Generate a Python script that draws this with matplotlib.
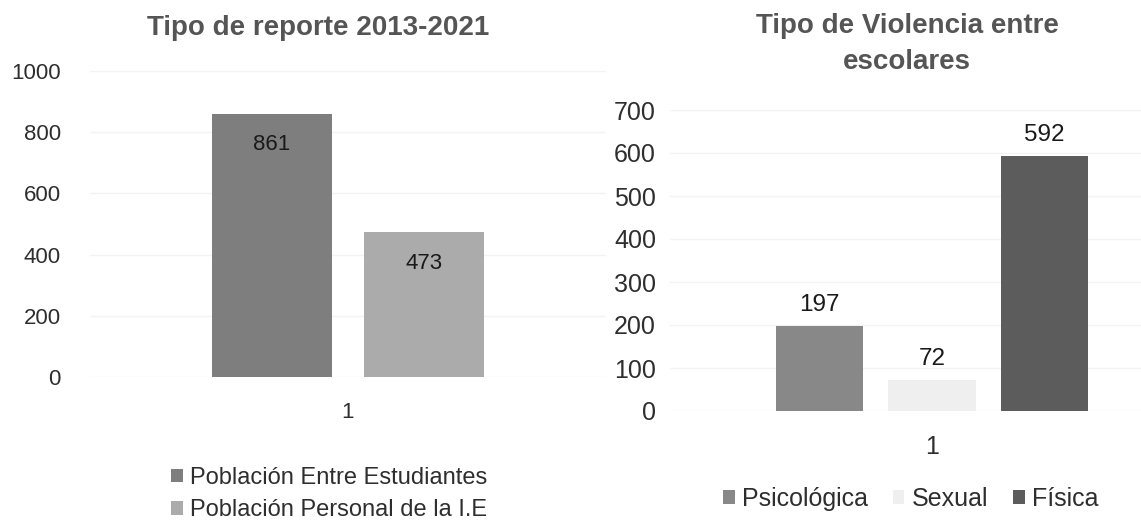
import matplotlib
matplotlib.use("Agg")
import matplotlib.pyplot as plt
from matplotlib.patches import Patch

plt.rcParams['font.family'] = ['Liberation Sans', 'DejaVu Sans']

# ---- data ----
left_title = "Tipo de reporte 2013-2021"
left_series = ["Población Entre Estudiantes", "Población Personal de la I.E"]
left_values = [861, 473]
left_colors = ["#7e7e7e", "#ababab"]
left_yticks = [0, 200, 400, 600, 800, 1000]

right_title = "Tipo de Violencia entre\nescolares"
right_series = ["Psicológica", "Sexual", "Física"]
right_values = [197, 72, 592]
right_colors = ["#888888", "#efefef", "#5c5c5c"]
right_yticks = [0, 100, 200, 300, 400, 500, 600, 700]

category = "1"

W, H = 1141, 530
fig = plt.figure(figsize=(W / 100, H / 100), dpi=100)
fig.patch.set_facecolor("white")

def px_axes(x0, x1, ytop, ybot):
    return fig.add_axes([x0 / W, 1 - ybot / H, (x1 - x0) / W, (ybot - ytop) / H])

text_col = "#2e2e2e"
title_col = "#555555"
grid_col = "#f3f3f3"

# ---- left chart ----
axL = px_axes(90, 606, 71, 377)
cL = 348
slotL = 152.5
axL.set_xlim((90 - cL) / slotL, (606 - cL) / slotL)
axL.set_ylim(0, 1000)
offsL = [-0.5, 0.5]
for i, (v, c) in enumerate(zip(left_values, left_colors)):
    axL.bar(offsL[i], v, width=0.79, color=c, zorder=2)
    axL.text(offsL[i], v - 68, str(v), ha="center", va="top", fontsize=16,
             color="#1a1a1a", zorder=3)
axL.set_yticks(left_yticks)
axL.set_yticklabels([str(t) for t in left_yticks])
axL.set_xticks([0])
axL.set_xticklabels([category])
axL.tick_params(axis="y", length=0, pad=21, labelsize=16, labelcolor=text_col)
axL.tick_params(axis="x", length=0, pad=18, labelsize=16, labelcolor=text_col)
axL.grid(axis="y", color=grid_col, linewidth=1, zorder=0)
for s in axL.spines.values():
    s.set_visible(False)
fig.text(318 / W, 1 - 28 / H, left_title, ha="center", va="center",
         fontsize=20, fontweight="bold", color=title_col)
handlesL = [Patch(facecolor=c, label=l) for l, c in zip(left_series, left_colors)]
legL = fig.legend(handles=handlesL, loc="center left",
                  bbox_to_anchor=(159 / W, 1 - 494 / H), frameon=False,
                  fontsize=17, handlelength=0.5, handleheight=0.5,
                  handletextpad=0.3, labelspacing=0.45, borderpad=0)
for t in legL.get_texts():
    t.set_color(text_col)

# ---- right chart ----
axR = px_axes(670, 1141, 110, 411)
cR = 932
slotR = 112.5
axR.set_xlim((670 - cR) / slotR, (1141 - cR) / slotR)
axR.set_ylim(0, 700)
offsR = [-1, 0, 1]
for i, (v, c) in enumerate(zip(right_values, right_colors)):
    axR.bar(offsR[i], v, width=0.78, color=c, zorder=2)
    axR.text(offsR[i], v + 24, str(v), ha="center", va="bottom", fontsize=17.5,
             color="#1a1a1a", zorder=3)
axR.set_yticks(right_yticks)
axR.set_yticklabels([str(t) for t in right_yticks])
axR.set_xticks([0])
axR.set_xticklabels([category])
axR.tick_params(axis="y", length=0, pad=10, labelsize=18, labelcolor=text_col)
axR.tick_params(axis="x", length=0, pad=17, labelsize=18, labelcolor=text_col)
axR.grid(axis="y", color=grid_col, linewidth=1, zorder=0)
for s in axR.spines.values():
    s.set_visible(False)
fig.text(907 / W, 1 - 44 / H, right_title, ha="center", va="center",
         fontsize=20, fontweight="bold", color=title_col, linespacing=1.5)
handlesR = [Patch(facecolor=c, label=l) for l, c in zip(right_series, right_colors)]
legR = fig.legend(handles=handlesR, loc="center",
                  bbox_to_anchor=(911 / W, 1 - 499 / H), frameon=False, ncol=3,
                  fontsize=18, handlelength=0.45, handleheight=0.45,
                  handletextpad=0.3, columnspacing=1.0, borderpad=0)
for t in legR.get_texts():
    t.set_color(text_col)

fig.savefig("out.png", dpi=100, facecolor="white")
